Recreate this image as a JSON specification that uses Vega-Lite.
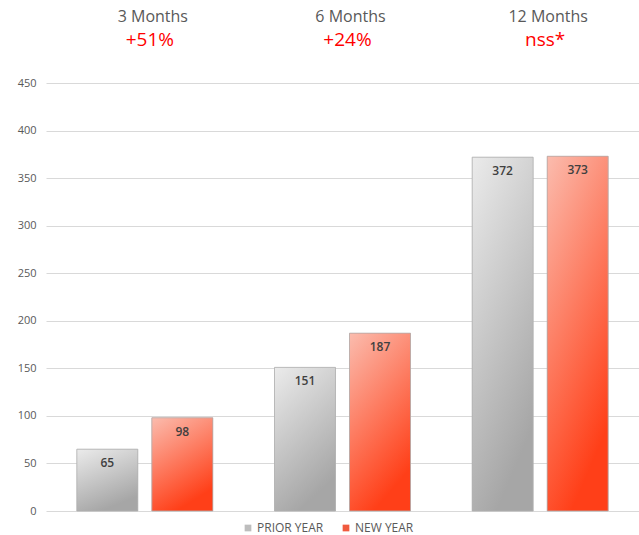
{
  "$schema": "https://vega.github.io/schema/vega-lite/v6.json",
  "width": 593,
  "height": 428,
  "autosize": {"type": "none"},
  "padding": {"left": 46, "top": 83, "right": 0, "bottom": 24},
  "background": "white",
  "datasets": {
    "bars": [
      {"period": "3 Months", "series": "PRIOR YEAR", "value": 65},
      {"period": "3 Months", "series": "NEW YEAR", "value": 98},
      {"period": "6 Months", "series": "PRIOR YEAR", "value": 151},
      {"period": "6 Months", "series": "NEW YEAR", "value": 187},
      {"period": "12 Months", "series": "PRIOR YEAR", "value": 372},
      {"period": "12 Months", "series": "NEW YEAR", "value": 373}
    ],
    "headers": [
      {"period": "3 Months", "change": "+51%"},
      {"period": "6 Months", "change": "+24%"},
      {"period": "12 Months", "change": "nss*"}
    ]
  },
  "layer": [
    {
      "data": {"name": "bars"},
      "mark": {"type": "bar"},
      "encoding": {
        "x": {
          "field": "period", "type": "nominal", "sort": ["3 Months", "6 Months", "12 Months"],
          "scale": {"paddingInner": 0.312, "paddingOuter": 0.156},
          "axis": {"orient": "top", "title": null, "ticks": false, "domain": false, "labelAngle": 0,
                   "labelFontSize": 16, "labelColor": "#595959", "labelPadding": 59, "labelOffset": 8,
                   "labelFont": "Open Sans"}
        },
        "xOffset": {
          "field": "series", "type": "nominal", "sort": ["PRIOR YEAR", "NEW YEAR"],
          "scale": {"paddingInner": 0.187, "paddingOuter": 0}
        },
        "y": {
          "field": "value", "type": "quantitative",
          "scale": {"domain": [0, 450]},
          "axis": {"title": null, "values": [0, 50, 100, 150, 200, 250, 300, 350, 400, 450],
                   "ticks": false, "domain": false, "labelPadding": 10, "labelFontSize": 11,
                   "labelColor": "#595959", "gridColor": "#d9d9d9", "labelFont": "Open Sans"}
        },
        "color": {
          "field": "series", "type": "nominal", "sort": ["PRIOR YEAR", "NEW YEAR"],
          "scale": {"domain": ["PRIOR YEAR", "NEW YEAR"], "range": ["#bdbdbd", "#f05a3e"]},
          "legend": {"title": null, "orient": "none", "legendX": 196, "legendY": 439,
                     "direction": "horizontal", "symbolType": "square",
                     "symbolSize": 45, "labelFontSize": 12, "labelColor": "#595959", "columnPadding": 16,
                     "labelFont": "Open Sans", "labelOffset": 3}
        }
      }
    },
    {
      "data": {"name": "bars"},
      "mark": {"type": "bar", "stroke": "#b0b0b0", "strokeWidth": 0.8},
      "encoding": {
        "x": {"field": "period", "type": "nominal", "sort": ["3 Months", "6 Months", "12 Months"]},
        "xOffset": {"field": "series", "type": "nominal", "sort": ["PRIOR YEAR", "NEW YEAR"]},
        "y": {"field": "value", "type": "quantitative"},
        "fill": {
          "condition": {
            "test": "datum.series === 'NEW YEAR'",
            "value": {"gradient": "linear", "x1": 0, "y1": 0, "x2": 0.4, "y2": 1,
                      "stops": [{"offset": 0, "color": "#fbbcae"}, {"offset": 1, "color": "#ff3f18"}]}
          },
          "value": {"gradient": "linear", "x1": 0, "y1": 0, "x2": 0.4, "y2": 1,
                    "stops": [{"offset": 0, "color": "#ebebeb"}, {"offset": 1, "color": "#a6a6a6"}]}
        }
      }
    },
    {
      "data": {"name": "bars"},
      "mark": {"type": "text", "baseline": "middle", "dy": 14, "fontSize": 12, "fontWeight": 600, "color": "#404040", "font": "Open Sans"},
      "encoding": {
        "x": {"field": "period", "type": "nominal", "sort": ["3 Months", "6 Months", "12 Months"]},
        "xOffset": {"field": "series", "type": "nominal", "sort": ["PRIOR YEAR", "NEW YEAR"]},
        "y": {"field": "value", "type": "quantitative"},
        "text": {"field": "value", "type": "quantitative"}
      }
    },
    {
      "data": {"name": "headers"},
      "mark": {"type": "text", "baseline": "middle", "dy": -43, "dx": 5, "fontSize": 19, "fontWeight": 500, "color": "#ff0000", "font": "Open Sans"},
      "encoding": {
        "x": {"field": "period", "type": "nominal", "sort": ["3 Months", "6 Months", "12 Months"]},
        "y": {"datum": 450, "type": "quantitative"},
        "text": {"field": "change", "type": "nominal"}
      }
    }
  ],
  "config": {"view": {"stroke": null}}
}
